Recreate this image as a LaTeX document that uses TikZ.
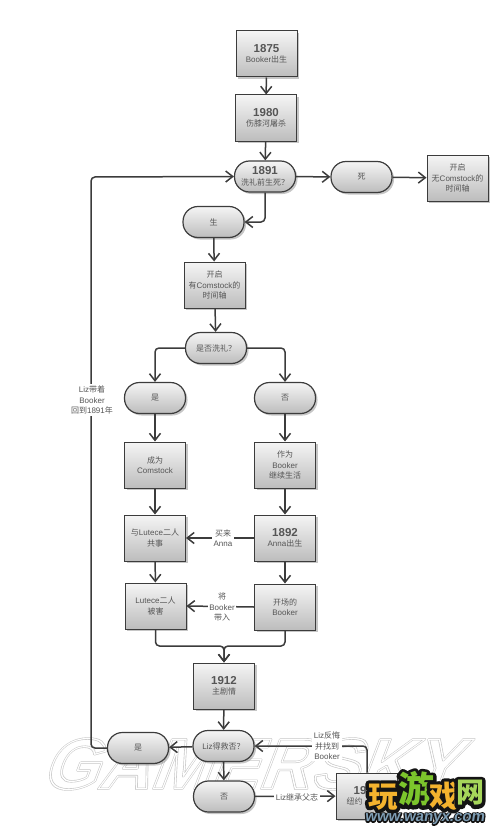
\documentclass[tikz,border=0pt]{standalone}
\usepackage{fontspec}
\usepackage{xcolor}
\setmainfont{Liberation Sans}
\newfontfamily\cjk{Noto Sans CJK SC}
\usetikzlibrary{arrows.meta,shadows}
\definecolor{flowgray}{HTML}{3C3C3C}
\definecolor{textgray}{HTML}{555555}
\definecolor{logoyellow}{HTML}{F4B32E}
\definecolor{logogreen}{HTML}{7CC52C}
\definecolor{logolime}{HTML}{A6D65A}
\definecolor{logosteel}{HTML}{7E9DB4}
\newcommand{\cj}[1]{{\cjk #1}}
\newcommand{\yr}[1]{{\fontsize{11.5}{14}\selectfont\bfseries #1}}
% stroke only: width, grey level, text
\newcommand{\strokedtext}[3]{\special{pdf:code 1 j 1 Tr #1 w #2 G}#3\special{pdf:code 0 Tr 0 G}}
\newcommand{\markword}[1]{\rlap{\strokedtext{2.4}{0.78}{#1}}\strokedtext{1.2}{1}{#1}}
\newcommand{\logoword}[2]{\rlap{\strokedtext{#1}{0.08}{#2}}#2}
\tikzset{
  flowline/.style={flowgray, -{Straight Barb[length=7pt,width=11pt]}, line width=1.5pt, rounded corners=4pt},
  boxnode/.style={draw=flowgray, line width=1pt, top color=gray!8, bottom color=gray!52, minimum width=61pt, minimum height=46pt, inner sep=0pt, align=center, text=textgray, font=\fontsize{8}{10.5}\selectfont, drop shadow={shadow xshift=2pt, shadow yshift=-2pt, fill=gray, opacity=0.45}},
  pillnode/.style={boxnode, rounded corners=15pt, minimum height=31pt, line width=1.2pt},
  labelnode/.style={fill=white, inner sep=1.5pt, align=center, text=textgray, font=\fontsize{8}{10.5}\selectfont},
  marknode/.style={inner sep=0pt, xslant=0.38, font=\fontsize{72}{72}\selectfont\bfseries},
  logonode/.style={inner sep=0pt}
}
\begin{document}
\begin{tikzpicture}[x=1pt,y=-1pt]
  \useasboundingbox (0,0) rectangle (500,832);
  % site mark under the chart
  \node[marknode] (mark) at (258,764) {\markword{GAMERSKY}};
  % boxes
  \node[boxnode] (birth) at (266.5,54) {\yr{1875}\\Booker\cj{出生}};
  \node[boxnode] (knee) at (266,118) {\yr{1980}\\\cj{伤膝河屠杀}};
  \node[pillnode] (baptlife) at (265,176.5) {\yr{1891}\\\cj{洗礼前生死？}};
  \node[pillnode] (dead) at (361.5,177) {\cj{死}};
  \node[boxnode] (nocomstock) at (457.5,178) {\cj{开启}\\\cj{无}Comstock\cj{的}\\\cj{时间轴}};
  \node[pillnode] (alive) at (213.5,222) {\cj{生}};
  \node[boxnode] (comstockline) at (214.5,285) {\cj{开启}\\\cj{有}Comstock\cj{的}\\\cj{时间轴}};
  \node[pillnode] (baptq) at (216,348) {\cj{是否洗礼？}};
  \node[pillnode] (baptyes) at (155,398) {\cj{是}};
  \node[pillnode] (baptno) at (285,398) {\cj{否}};
  \node[boxnode] (becomes) at (155,465) {\cj{成为}\\Comstock};
  \node[boxnode] (lives) at (285,465) {\cj{作为}\\Booker\\\cj{继续生活}};
  \node[boxnode] (partners) at (155,538) {\cj{与}Lutece\cj{二人}\\\cj{共事}};
  \node[boxnode] (anna) at (285,538) {\yr{1892}\\Anna\cj{出生}};
  \node[boxnode] (killed) at (155.5,606) {Lutece\cj{二人}\\\cj{被害}};
  \node[boxnode] (opening) at (285,607) {\cj{开场的}\\Booker};
  \node[boxnode] (mainplot) at (224,686) {\yr{1912}\\\cj{主剧情}};
  \node[pillnode] (savedq) at (223.5,746) {Liz\cj{得救否？}};
  \node[pillnode] (savedyes) at (138,748) {\cj{是}};
  \node[pillnode] (savedno) at (224,796.5) {\cj{否}};
  \node[boxnode] (newyork) at (366.5,796) {\yr{19\phantom{12}}\\\cj{纽约}\phantom{\cj{纽约的}}};
  % corners of the long runs
  \coordinate (loopbot) at (91,748);
  \coordinate (looptop) at (91,177);
  \coordinate (mergeleft) at (155.5,646);
  \coordinate (mergeright) at (285,646);
  \coordinate (mergemid) at (224,646);
  \coordinate (backtop) at (367,746);
  % connectors
  \draw[flowline] (birth) -- (knee);
  \draw[flowline] (knee) -- (baptlife);
  \draw[flowline] (baptlife) -- (dead);
  \draw[flowline] (dead) -- (nocomstock);
  \draw[flowline] (baptlife.south) |- (alive.east);
  \draw[flowline] (alive) -- (comstockline);
  \draw[flowline] (comstockline) -- (baptq);
  \draw[flowline] (baptq.west) -| (baptyes.north);
  \draw[flowline] (baptq.east) -| (baptno.north);
  \draw[flowline] (baptyes) -- (becomes);
  \draw[flowline] (baptno) -- (lives);
  \draw[flowline] (becomes) -- (partners);
  \draw[flowline] (lives) -- (anna);
  \draw[flowline] (partners) -- (killed);
  \draw[flowline] (anna) -- (opening);
  \draw[flowline] (anna.west) -- (partners.east);
  \draw[flowline] (opening.west) -- (killed.east);
  \draw[flowline] (killed.south) -- (mergeleft) -- (mergemid) -- (mainplot.north);
  \draw[flowline] (opening.south) -- (mergeright) -- (mergemid) -- (mainplot.north);
  \draw[flowline] (mainplot) -- (savedq);
  \draw[flowline] (savedq) -- (savedyes);
  \draw[flowline] (savedq) -- (savedno);
  \draw[flowline] (savedno) -- (newyork);
  \draw[flowline] (newyork.north -| backtop) -- (backtop) -- (savedq.east);
  \draw[flowline] (savedyes.west) -- (loopbot) -- (looptop) -- (baptlife.west);
  % texts on the lines
  \node[labelnode] (carry) at (92,400) {Liz\cj{带着}\\Booker\\\cj{回到}1891\cj{年}};
  \node[labelnode] (buys) at (223,538) {\cj{买来}\\Anna};
  \node[labelnode] (brings) at (222,607) {\cj{将}\\Booker\\\cj{带入}};
  \node[labelnode] (repents) at (327,746) {Liz\cj{反悔}\\\cj{并找到}\\Booker};
  \node[labelnode] (inherits) at (297,797) {Liz\cj{继承父志}};
  % logo on top
  \node[logonode, text=logoyellow, font=\cjk\bfseries\fontsize{30}{30}\selectfont] (logowan) at (383,797) {\logoword{7}{玩}};
  \node[logonode, text=logogreen, font=\cjk\bfseries\fontsize{36}{36}\selectfont] (logoyou) at (416,789) {\logoword{7}{游}};
  \node[logonode, text=logoyellow, font=\cjk\bfseries\fontsize{30}{30}\selectfont] (logoxi) at (444,796) {\logoword{7}{戏}};
  \node[logonode, text=logolime, font=\cjk\bfseries\fontsize{28}{28}\selectfont] (logowang) at (470,793) {\logoword{7}{网}};
  \node[logonode, xslant=0.15, text=logosteel, font=\fontsize{15}{15}\selectfont\bfseries] (logourl) at (425,819) {\logoword{2.6}{www.wanyx.com}};
\end{tikzpicture}
\end{document}
